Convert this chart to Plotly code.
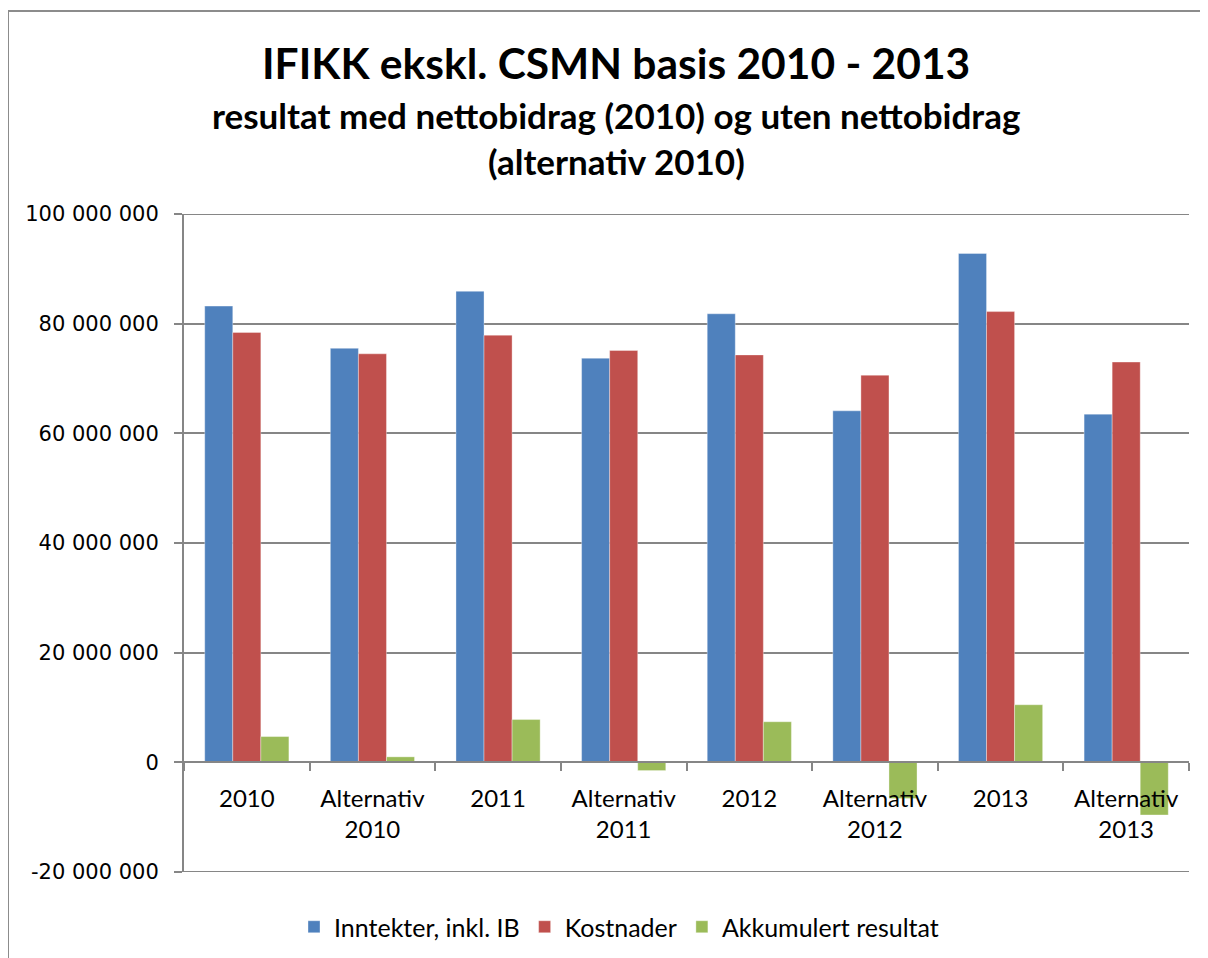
import plotly.graph_objects as go

categories = ["2010", "Alternativ<br>2010", "2011", "Alternativ<br>2011",
              "2012", "Alternativ<br>2012", "2013", "Alternativ<br>2013"]
inntekter = [83200000, 75500000, 85900000, 73700000, 81800000, 64100000, 92800000, 63500000]
kostnader = [78400000, 74500000, 77900000, 75100000, 74300000, 70600000, 82200000, 73000000]
akkumulert = [4700000, 1000000, 7800000, -1500000, 7400000, -6600000, 10500000, -9600000]

series_names = ["Inntekter, inkl. IB", "Kostnader", "Akkumulert resultat"]
series_colors = ["#4F81BD", "#C0504D", "#9BBB59"]

y_tickvals = [-20000000, 0, 20000000, 40000000, 60000000, 80000000, 100000000]
y_ticktext = ["-20 000 000", "0", "20 000 000", "40 000 000", "60 000 000", "80 000 000", "100 000 000"]

title_lines = ["IFIKK ekskl. CSMN basis 2010 - 2013",
               "resultat med nettobidrag (2010) og uten nettobidrag",
               "(alternativ 2010)"]

GRID = "#868686"
FONT = "Lato"

fig = go.Figure()
for name, vals, col in zip(series_names, [inntekter, kostnader, akkumulert], series_colors):
    fig.add_trace(go.Bar(
        x=categories, y=vals, name=name,
        marker=dict(color=col, line=dict(color="rgba(255,255,255,0.35)", width=1)),
    ))

# page offset: html body has an 8px margin
OFF = 8
W, H = 1208 - OFF, 958 - OFF
PL, PR, PT, PB = 184, 1189, 214, 872   # plot area in page pixels
L, R, T, B = PL - OFF, W - (PR - OFF), PT - OFF, H - (PB - OFF)
pw, ph = PR - PL, PB - PT

def px_x(px):
    return (px - PL) / pw

def px_y(py):
    return (PB - py) / ph

fig.update_layout(
    width=W, height=H,
    margin=dict(l=L, r=R, t=T, b=B, pad=0, autoexpand=False),
    paper_bgcolor="white", plot_bgcolor="white",
    barmode="group", bargap=0.33, bargroupgap=0,
    font=dict(family=FONT, color="black"),
    showlegend=True,
    legend=dict(orientation="h", x=px_x(619), y=px_y(927), xanchor="center", yanchor="middle",
                font=dict(family=FONT, size=25, color="black"), traceorder="normal",
                itemwidth=30),
    xaxis=dict(
        anchor="free", position=20 / 120,
        showline=True, linecolor=GRID, linewidth=2,
        ticks="outside", tickson="boundaries", ticklen=8, tickcolor=GRID, tickwidth=1.5,
        tickfont=dict(family=FONT, size=24, color="black"),
        ticklabelstandoff=15, automargin=False,
        showgrid=False, zeroline=False,
    ),
    yaxis=dict(
        range=[-20000000, 100000000],
        tickvals=y_tickvals, ticktext=y_ticktext,
        showline=True, linecolor=GRID, linewidth=2,
        ticks="outside", ticklen=8, tickcolor=GRID, tickwidth=1.5,
        showgrid=True, gridcolor=GRID, gridwidth=2,
        zeroline=True, zerolinecolor=GRID, zerolinewidth=2,
        tickfont=dict(family="DejaVu Sans", size=21, color="black"),
        ticklabelstandoff=11, automargin=False,
    ),
)

# chart area border (left and top visible)
fig.add_shape(type="rect", xref="paper", yref="paper",
              x0=px_x(8), x1=px_x(1260), y0=px_y(1000), y1=px_y(11),
              line=dict(color="#8C8C8C", width=2), fillcolor="rgba(0,0,0,0)", layer="below")
# gridlines at the edges of the plot area
fig.add_shape(type="line", xref="paper", yref="y", x0=0, x1=1,
              y0=y_tickvals[0], y1=y_tickvals[0], line=dict(color=GRID, width=2))
fig.add_shape(type="line", xref="paper", yref="y", x0=0, x1=1,
              y0=y_tickvals[-1], y1=y_tickvals[-1], line=dict(color=GRID, width=2))

title_pos = [(62, 42.5), (115, 35), (161, 35)]
for text, (py, size) in zip(title_lines, title_pos):
    fig.add_annotation(text="<b>" + text + "</b>", xref="paper", yref="paper",
                       x=px_x(616), y=px_y(py), xanchor="center", yanchor="middle",
                       showarrow=False, font=dict(family=FONT, size=size, color="black"))

fig.write_html("out.html")
